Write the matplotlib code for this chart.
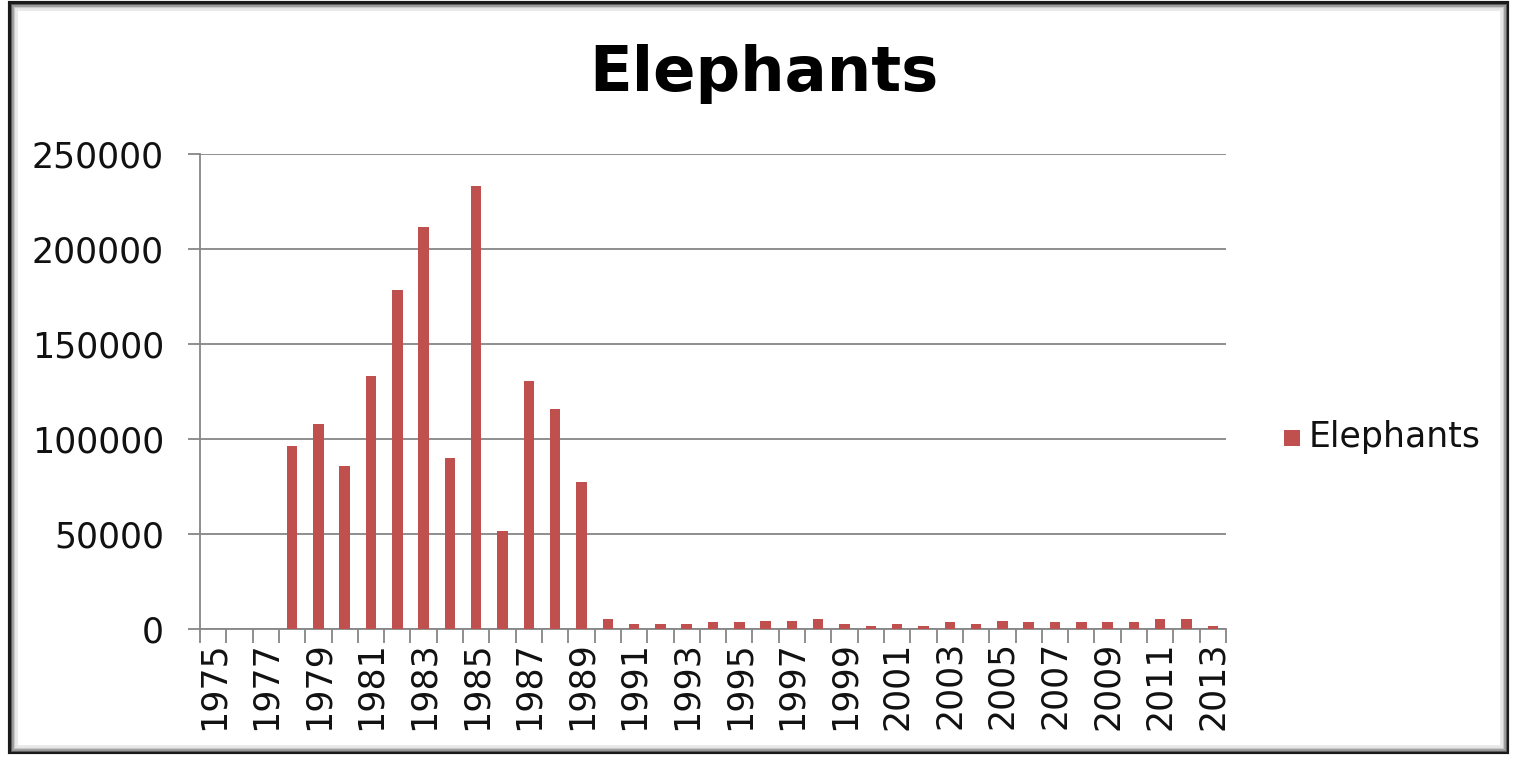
import matplotlib
matplotlib.use("Agg")
import matplotlib.pyplot as plt
from matplotlib.patches import Rectangle
from matplotlib.ticker import FixedLocator, NullFormatter

years = list(range(1975, 2014))
elephants = [0, 0, 0, 96000, 108000, 85600, 133300, 178600, 211500, 89800,
             233000, 51700, 130300, 115600, 77200, 5100, 2300, 2300, 2300, 3300,
             3300, 4200, 4200, 5100, 2500, 1600, 2500, 1600, 3300, 2500,
             4200, 3300, 3300, 3300, 3300, 3300, 5000, 5000, 1600]
series_name = "Elephants"
title = "Elephants"
y_ticks = [0, 50000, 100000, 150000, 200000, 250000]

W, H = 1513, 763
fig = plt.figure(figsize=(W / 100, H / 100), dpi=100)
fig.patch.set_facecolor("white")

ax = fig.add_axes([200 / W, (H - 628.7) / H, 1026 / W, (628.7 - 154) / H])
x = list(range(len(years)))
bar_color = "#C0504D"
ax.bar(x, elephants, width=0.4, color=bar_color, zorder=3, label=series_name)

grid_c = "#868686"
ax.set_xlim(-0.5, len(years) - 0.5)
ax.set_ylim(0, 250000)
ax.set_yticks(y_ticks)
ax.set_yticklabels([str(v) for v in y_ticks])
ax.yaxis.grid(True, color=grid_c, lw=1.3, zorder=0)
ax.tick_params(axis="y", length=9, width=1.3, color=grid_c, pad=17, labelsize=25,
               labelcolor="#111111")

# labels every other year at category centres, tick marks at category boundaries
ax.set_xticks(x[::2])
ax.set_xticklabels([str(y) for y in years[::2]], rotation=90, fontsize=25, color="#111111")
ax.tick_params(axis="x", which="major", length=0, pad=9)
ax.xaxis.set_minor_locator(FixedLocator([i - 0.5 for i in range(len(years) + 1)]))
ax.xaxis.set_minor_formatter(NullFormatter())
ax.tick_params(axis="x", which="minor", length=10, width=1.3, color=grid_c)

for side in ("top", "right"):
    ax.spines[side].set_visible(False)
for side in ("left", "bottom"):
    ax.spines[side].set_color(grid_c)
    ax.spines[side].set_linewidth(1.3)

fig.text(764 / W, (H - 74) / H, title, ha="center", va="center",
         fontsize=45, fontweight="bold", color="#000000")

# legend entry
fig.patches.append(Rectangle((1284 / W, (H - 446) / H), 16 / W, 16 / H,
                             transform=fig.transFigure, facecolor=bar_color,
                             edgecolor="none"))
fig.text(1309 / W, (H - 437) / H, series_name, ha="left", va="center",
         fontsize=25, color="#111111")

# framed border with a soft inner shadow
x0, y0, x1, y1 = 10, 3, 1507, 752
for i, (c, lw) in enumerate([("#1a1a1a", 3.0), ("#666666", 2.0), ("#a0a0a0", 2.0),
                             ("#cfcfcf", 2.0), ("#e8e8e8", 2.0)]):
    d = i * 1.6
    fig.patches.append(Rectangle(((x0 + d) / W, (H - y1 + d) / H),
                                 (x1 - x0 - 2 * d) / W, (y1 - y0 - 2 * d) / H,
                                 transform=fig.transFigure, fill=False,
                                 edgecolor=c, lw=lw))

fig.savefig("out.png", dpi=100, facecolor="white")
